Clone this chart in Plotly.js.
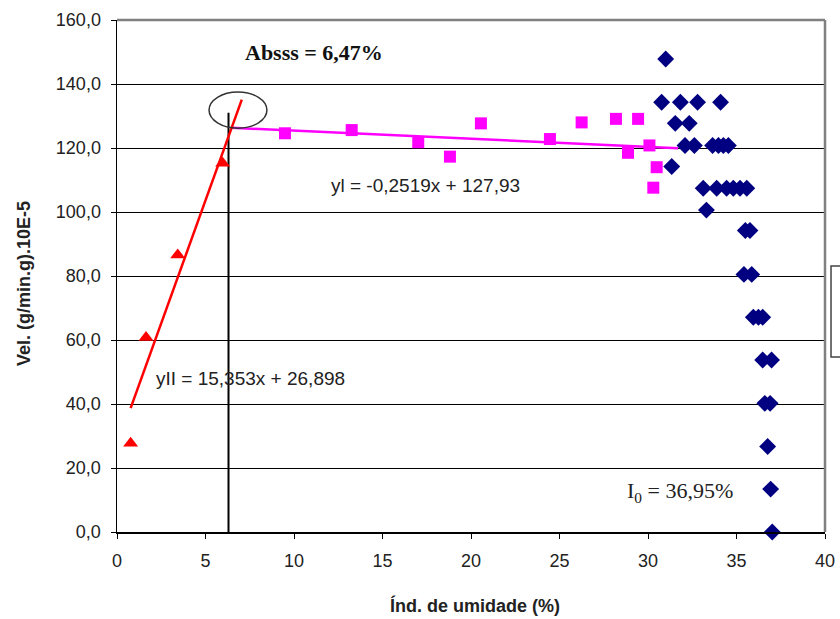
<!DOCTYPE html>
<html>
<head>
<meta charset="utf-8">
<script src="https://cdn.plot.ly/plotly-3.0.1.min.js"></script>
<style>html,body{margin:0;padding:0;background:#fff;}#chart{width:840px;height:619px;}</style>
</head>
<body>
<div id="chart"></div>
<script>
// Series I (navy diamonds)
const serIx = [31.0, 30.77, 31.83, 32.8, 34.1, 31.54, 32.33, 32.09, 32.62, 33.65, 33.98, 34.26, 34.54,
  31.34, 33.12, 33.88, 34.44, 34.82, 35.2, 35.58, 33.3, 35.5, 35.76, 35.42, 35.86, 35.95, 36.24, 36.48,
  36.48, 36.98, 36.6, 36.9, 36.76, 36.93, 37.02];
const serIy = [147.8, 134.3, 134.3, 134.3, 134.3, 127.7, 127.7, 120.8, 120.8, 120.8, 120.8, 120.8, 120.8,
  114.2, 107.4, 107.4, 107.4, 107.4, 107.4, 107.4, 100.6, 94.2, 94.2, 80.5, 80.5, 67.1, 67.1, 67.1,
  53.75, 53.75, 40.2, 40.2, 26.7, 13.4, 0.0];
// Series I' (magenta squares)
const serSqx = [9.49, 13.26, 17.02, 18.81, 20.56, 24.46, 26.25, 28.19, 29.44, 28.87, 30.08, 30.49, 30.3];
const serSqy = [124.6, 125.6, 121.8, 117.3, 127.7, 122.8, 128.0, 129.1, 129.1, 118.5, 120.8, 114.0, 107.6];
// Series II (red triangles)
const serIIx = [0.77, 1.64, 3.43, 5.97];
const serIIy = [27.7, 60.8, 86.6, 115.2];
// Trend lines (endpoints)
const trendIx = [6.47, 31.7];
const trendIy = [126.3, 119.9];
const trendIIx = [0.77, 7.05];
const trendIIy = [38.7, 135.1];
// Vertical marker line at the intersection
const vlineX = [6.3, 6.3];
const vlineY = [0, 131];
// Tick values
const yTicks = [0, 20, 40, 60, 80, 100, 120, 140, 160];
const xTicks = [0, 5, 10, 15, 20, 25, 30, 35, 40];

const traces = [
  {x: vlineX, y: vlineY, mode: 'lines', line: {color: '#000', width: 2}, hoverinfo: 'skip', showlegend: false},
  {x: trendIx, y: trendIy, mode: 'lines', line: {color: '#FF00FF', width: 2.5}, showlegend: false},
  {x: trendIIx, y: trendIIy, mode: 'lines', line: {color: '#FF0000', width: 2.5}, showlegend: false},
  {x: serIx, y: serIy, mode: 'markers', name: 'I', marker: {symbol: 'diamond', size: 13, color: '#000080'}, cliponaxis: false},
  {x: serSqx, y: serSqy, mode: 'markers', name: "I'", marker: {symbol: 'square', size: 12, color: '#FF00FF'}},
  {x: serIIx, y: serIIy, mode: 'markers', name: 'II', marker: {symbol: 'triangle-up', size: 13, color: '#FF0000'}}
];

const layout = {
  width: 840, height: 619,
  margin: {l: 117, r: 15, t: 20, b: 87, autoexpand: false},
  paper_bgcolor: '#fff', plot_bgcolor: '#fff',
  separators: ',.',
  showlegend: false,
  font: {family: 'Liberation Sans, Arial, sans-serif', size: 18, color: '#222'},
  xaxis: {
    range: [0, 40], tickvals: xTicks, ticks: 'outside', ticklen: 5, tickcolor: '#000',
    showgrid: false, zeroline: false, showline: true, linecolor: '#000', linewidth: 1.5,
    ticklabelstandoff: 7,
    tickfont: {size: 18, color: '#222'}
  },
  yaxis: {
    range: [0, 160], tickvals: yTicks, tickformat: '.1f', ticks: 'outside', ticklen: 5, tickcolor: '#000',
    showgrid: true, gridcolor: '#000', gridwidth: 1, zeroline: false, showline: true, linecolor: '#000', linewidth: 1.5,
    ticklabelstandoff: 6,
    tickfont: {size: 18, color: '#222'}
  },
  shapes: [
    {type: 'line', xref: 'paper', yref: 'paper', x0: 0, x1: 1, y0: 1, y1: 1, line: {color: '#808080', width: 2.5}},
    {type: 'line', xref: 'paper', yref: 'paper', x0: 1, x1: 1, y0: 0, y1: 1, line: {color: '#808080', width: 2.5}},
    {type: 'circle', xref: 'x', yref: 'y', x0: 5.2, x1: 8.47, y0: 126.2, y1: 137.5, line: {color: '#333', width: 1.5}},
    {type: 'rect', xref: 'paper', yref: 'paper', x0: 1.0085, x1: 1.2, y0: 0.342, y1: 0.5195, line: {color: '#444', width: 1.5}, fillcolor: 'rgba(0,0,0,0)'},
    {type: 'line', xref: 'paper', yref: 'paper', x0: 1.023, x1: 1.03, y0: 0.488, y1: 0.488, line: {color: '#000080', width: 1}},
    {type: 'line', xref: 'paper', yref: 'paper', x0: 1.023, x1: 1.03, y0: 0.359, y1: 0.359, line: {color: '#FF0000', width: 1}}
  ],
  annotations: [
    {xref: 'paper', yref: 'paper', x: (313.5 - 117) / 708, y: (532 - 52.7) / 512, xanchor: 'center', yanchor: 'middle',
     text: '<b>Absss = 6,47%</b>', showarrow: false,
     font: {family: 'Liberation Serif, Times New Roman, serif', size: 22, color: '#111'}},
    {xref: 'x', yref: 'y', x: 12.0, y: 108.3, text: 'yl = -0,2519x + 127,93', showarrow: false, xanchor: 'left', yanchor: 'middle',
     font: {size: 19, color: '#222'}},
    {xref: 'x', yref: 'y', x: 2.1, y: 48.1, text: 'yII = 15,353x + 26,898', showarrow: false, xanchor: 'left', yanchor: 'middle',
     font: {size: 19, color: '#222'}},
    {xref: 'x', yref: 'y', x: 28.7, y: 12.6, text: 'I<sub>0</sub> = 36,95%', showarrow: false, xanchor: 'left', yanchor: 'middle',
     font: {family: 'Liberation Serif, Times New Roman, serif', size: 22, color: '#222'}},
    {xref: 'paper', yref: 'paper', x: (475 - 117) / 708, y: (532 - 605) / 512, xanchor: 'center', yanchor: 'middle',
     text: '<b>Índ. de umidade (%)</b>', showarrow: false,
     font: {size: 18, color: '#222'}},
    {xref: 'paper', yref: 'paper', x: (24 - 117) / 708, y: (532 - 283) / 512, xanchor: 'center', yanchor: 'middle',
     text: '<b>Vel. (g/min.g).10E-5</b>', showarrow: false, textangle: -90,
     font: {size: 18, color: '#222'}}
  ]
};

Plotly.newPlot('chart', traces, layout, {displayModeBar: false, staticPlot: true});
</script>
</body>
</html>
